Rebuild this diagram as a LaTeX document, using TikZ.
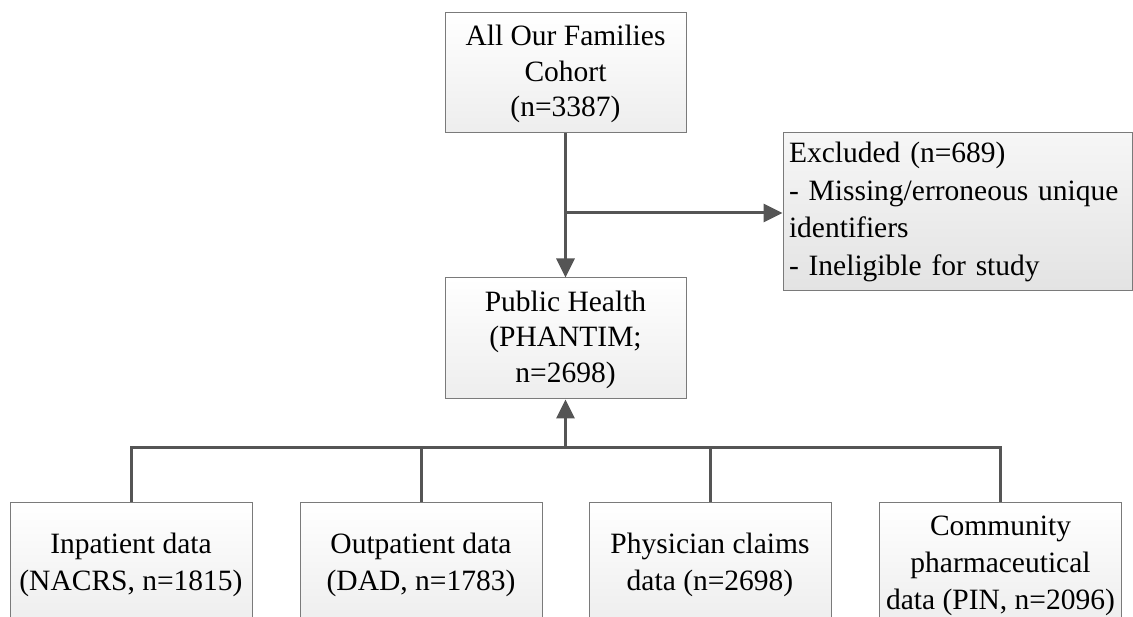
\documentclass[tikz,border=0pt]{standalone}
\usepackage{fontspec}
\setmainfont{Liberation Serif}
\usetikzlibrary{arrows.meta,shadings}
\definecolor{linecol}{HTML}{555555}
\definecolor{boxborder}{HTML}{7A7A7A}
\newcommand\tstrut{\rule{0pt}{23pt}}
\tikzset{
  box/.style={draw=boxborder, line width=1pt, top color=white, bottom color=gray!14,
    inner sep=0pt, align=center, font=\fontsize{29.5}{35.5}\selectfont},
  lowbox/.style={box, minimum width=242pt, minimum height=124pt,
    font=\fontsize{29.5}{37}\selectfont},
  exbox/.style={draw=boxborder, line width=1pt, top color=gray!7, bottom color=gray!22,
    inner xsep=6pt, inner ysep=0pt, align=left, font=\fontsize{29.5}{37.5}\selectfont},
  conn/.style={draw=linecol, line width=3pt},
  tip/.style={-{Triangle[length=19pt,width=18pt]}}
}
\begin{document}
\begin{tikzpicture}[x=1pt,y=-1pt]
\useasboundingbox (0,0) rectangle (1133,617);
\clip (0,0) rectangle (1133,617);
\fill[white] (0,0) rectangle (1133,617);
\node[box, minimum width=241pt, minimum height=120pt] (top) at (565.5,73)
  {\tstrut All Our Families\\Cohort\\(n=3387)};
\node[box, minimum width=241pt, minimum height=121pt] (ph) at (565.5,338.5)
  {\tstrut Public Health\\(PHANTIM;\\n=2698)};
\node[exbox, text width=337pt, minimum height=158pt] (excl) at (957.5,212)
  {Excluded (n=689)\\- Missing/erroneous unique\\identifiers\\- Ineligible for study};
\node[lowbox] (b1) at (131,564)
  {\tstrut Inpatient data\\(NACRS, n=1815)};
\node[lowbox] (b2) at (421,564)
  {\tstrut Outpatient data\\(DAD, n=1783)};
\node[lowbox] (b3) at (710,564)
  {\tstrut Physician claims\\data (n=2698)};
\node[lowbox] (b4) at (1000.5,564)
  {\tstrut Community\\pharmaceutical\\data (PIN, n=2096)};
\coordinate (br) at (565.5,213);
\coordinate (hb) at (565.5,448);
\draw[conn,tip] (top.south) -- (ph.north);
\draw[conn,tip] (br) -- (br -| excl.west);
\draw[conn,tip] (hb) -- (ph.south);
\draw[conn] (b1.north) -- (b1.north |- hb) -- (b4.north |- hb) -- (b4.north);
\draw[conn] (b2.north) -- (b2.north |- hb);
\draw[conn] (b3.north) -- (b3.north |- hb);
\end{tikzpicture}
\end{document}
